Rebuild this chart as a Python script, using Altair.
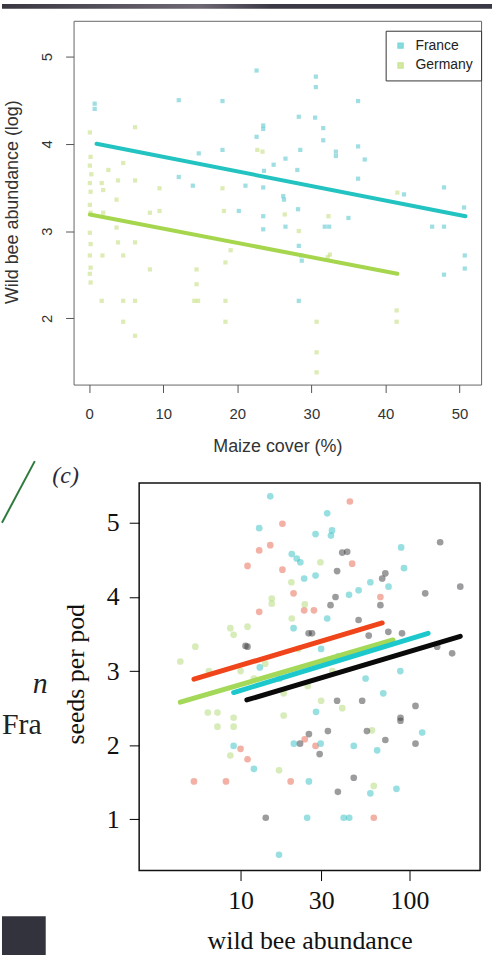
import altair as alt
import pandas as pd

# ---------------- top panel: wild bee abundance vs maize cover ----------------
countries = ["France", "Germany"]

fr_x = [0.75, 0.75, 12.1, 18.0, 22.6, 30.6, 30.6, 36.3, 28.3, 30.5, 23.5, 23.5, 31.6, 22.6,
        31.6, 36.3, 18.0, 14.8, 33.3, 33.3, 28.5, 26.5, 24.9, 37.2, 23.6, 28.1, 12.1, 14.0,
        21.1, 23.5, 36.3, 47.9, 26.2, 26.3, 28.2, 20.2, 23.5, 26.5, 23.5, 31.8, 32.4, 35.0,
        28.3, 28.7, 28.6, 46.3, 47.9, 50.6, 50.7, 50.7, 47.9, 28.3, 42.5]
fr_y = [4.46, 4.40, 4.50, 4.49, 4.84, 4.77, 4.65, 4.49, 4.31, 4.30, 4.21, 4.17, 4.18, 4.08,
        4.04, 3.97, 3.93, 3.89, 3.91, 3.86, 3.93, 3.83, 3.76, 3.82, 3.69, 3.70, 3.62, 3.52,
        3.52, 3.50, 3.60, 3.50, 3.40, 3.36, 3.25, 3.23, 3.17, 3.05, 3.02, 3.05, 3.05, 3.15,
        2.83, 2.66, 2.72, 3.05, 3.05, 3.27, 2.72, 2.57, 2.50, 2.20, 3.42]

de_x = [0.1, 0.2, 0.1, 0.3, 0.1, 0.2, 0.1, 0.2, 0.1, 0.2, 0.1, 0.2, 0.1, 0.2,
        6.2, 4.6, 2.6, 3.9, 6.2, 1.7, 1.9, 3.7, 9.5, 18.0, 23.4, 22.7,
        1.9, 3.7, 3.9, 6.2, 1.8, 4.6, 8.2, 9.5, 8.2, 14.5, 14.5, 1.7, 4.6, 6.2,
        14.2, 14.7, 18.4, 4.6, 6.2, 18.4, 18.2, 18.4, 19.1, 26.4, 32.3, 30.7,
        30.7, 30.7, 41.5, 41.5, 28.3, 32.5, 41.6, 32.2]
de_y = [4.13, 3.85, 3.75, 3.65, 3.55, 3.45, 3.30, 3.21, 2.98, 2.85, 2.72, 2.58, 2.51, 2.41,
        4.19, 3.78, 3.70, 3.58, 3.58, 3.55, 3.47, 3.36, 3.49, 3.49, 3.91, 3.93,
        3.21, 3.04, 2.87, 2.87, 2.72, 2.72, 3.21, 3.23, 2.56, 2.56, 2.39, 2.20, 2.20, 2.20,
        2.20, 2.20, 2.20, 1.96, 1.80, 1.96, 3.23, 2.64, 2.78, 3.19, 3.17, 1.96,
        1.61, 1.38, 2.09, 1.96, 3.00, 2.73, 3.44, 2.70]

fr_fit_x = [1.0, 50.8]
fr_fit_y = [4.00, 3.17]
de_fit_x = [0.1, 41.6]
de_fit_y = [3.19, 2.51]

top_x_ticks = [0, 10, 20, 30, 40, 50]
top_y_ticks = [2, 3, 4, 5]

# ---------------- bottom panel: seeds per pod vs wild bee abundance ----------------
groups = ["Group 1", "Group 2", "Group 3", "Group 4"]

red_x = [17.7, 15.0, 12.9, 11.0, 17.7, 20.6, 12.9, 23.8, 44.4, 45.8, 67.3, 27.2, 27.8,
         19.8, 61.5, 5.3, 8.2, 10.0, 11.0, 24.0]
red_y = [4.99, 4.70, 4.63, 4.42, 4.37, 4.05, 3.80, 3.82, 5.29, 4.45, 4.00, 3.82, 1.99,
         1.51, 1.02, 1.51, 1.51, 1.95, 1.81, 2.08]

grn_x = [15.3, 15.3, 20.1, 8.7, 9.1, 5.4, 4.4, 29.7, 61.5, 16.9, 6.4, 7.3, 7.3, 9.1, 9.1,
         8.7, 12.0, 14.0, 18.0, 22.0, 25.0, 30.0, 35.0, 20.0, 24.0, 40.0, 60.0, 18.0,
         10.0, 11.0, 6.5]
grn_y = [3.98, 3.91, 3.71, 3.58, 3.49, 3.33, 3.13, 4.47, 1.45, 1.66, 2.44, 2.44, 2.25, 2.37,
         2.25, 1.86, 2.90, 3.10, 2.70, 3.30, 2.80, 2.60, 3.00, 4.20, 3.90, 2.50, 2.20, 2.40,
         3.00, 3.60, 3.00]

cyn_x = [15.0, 12.9, 20.1, 21.5, 22.6, 23.8, 32.6, 27.8, 34.8, 34.3, 27.8, 89.3, 92.9,
         58.7, 75.2, 50.0, 43.9, 32.6, 88.3, 119.0, 64.4, 46.8, 20.7, 29.8, 58.7, 83.8,
         25.4, 24.8, 40.8, 44.0, 16.9, 9.1, 12.0, 20.6, 13.0, 17.0, 30.0, 38.0, 55.0, 70.0,
         28.0]
cyn_y = [5.36, 4.93, 4.58, 4.52, 4.47, 4.25, 5.13, 4.85, 4.90, 4.83, 4.29, 4.67, 4.39,
         4.20, 4.14, 4.09, 4.03, 3.71, 3.00, 2.17, 1.93, 1.99, 2.02, 2.02, 1.35, 1.41,
         1.51, 1.02, 1.02, 1.02, 0.52, 1.99, 1.68, 3.58, 3.05, 2.90, 3.30, 3.20, 2.90, 2.70,
         2.45]

blk_x = [11.0, 25.3, 40.0, 42.8, 37.3, 152.0, 200.0, 124.0, 72.0, 69.0, 36.5, 34.1, 67.3,
         57.4, 75.0, 90.4, 146.0, 179.0, 26.5, 37.3, 52.5, 108.6, 88.5, 88.5, 56.0, 72.0,
         108.6, 32.9, 25.4, 22.5, 29.4, 46.8, 37.7, 14.1, 10.7, 50.0]
blk_y = [3.33, 3.51, 4.60, 4.61, 4.35, 4.74, 4.14, 4.05, 4.32, 4.25, 4.00, 3.89, 3.89,
         3.48, 3.53, 3.51, 3.33, 3.24, 3.51, 2.60, 2.60, 2.53, 2.37, 2.33, 2.19, 2.07,
         2.02, 2.19, 2.15, 2.02, 1.88, 1.56, 1.37, 1.02, 3.34, 3.69]

fit_x = {"Group 1": [5.3, 69.0], "Group 2": [4.4, 80.0],
         "Group 3": [9.1, 129.0], "Group 4": [10.9, 200.0]}
fit_y = {"Group 1": [2.89, 3.65], "Group 2": [2.58, 3.42],
         "Group 3": [2.71, 3.51], "Group 4": [2.61, 3.47]}

bot_x_ticks = [10, 30, 100]
bot_y_ticks = [1, 2, 3, 4, 5]

# ---------------- tables ----------------
top_pts = pd.DataFrame({
    "cover": fr_x + de_x,
    "abund": fr_y + de_y,
    "country": ["France"] * len(fr_x) + ["Germany"] * len(de_x),
})
top_fit = pd.DataFrame({
    "cover": fr_fit_x + de_fit_x,
    "abund": fr_fit_y + de_fit_y,
    "country": ["France"] * 2 + ["Germany"] * 2,
})

bot_pts = pd.DataFrame({
    "bees": red_x + grn_x + cyn_x + blk_x,
    "seeds": red_y + grn_y + cyn_y + blk_y,
    "group": (["Group 1"] * len(red_x) + ["Group 2"] * len(grn_x)
              + ["Group 3"] * len(cyn_x) + ["Group 4"] * len(blk_x)),
})
fit_rows = []
for g in ["Group 2", "Group 3", "Group 1", "Group 4"]:
    for xv, yv in zip(fit_x[g], fit_y[g]):
        fit_rows.append({"bees": xv, "seeds": yv, "group": g})
bot_fit = pd.DataFrame(fit_rows)

one = pd.DataFrame({"k": [0]})

# ---------------- top chart ----------------
SANS = "Liberation Sans"
SERIF = "Liberation Serif"

tx = alt.X("cover:Q",
           scale=alt.Scale(domain=[-2.1, 52.9], nice=False, zero=False),
           axis=alt.Axis(values=top_x_ticks, format="d", domain=False, grid=False,
                         tickSize=8, tickColor="#555", labelFont=SANS, labelFontSize=15,
                         labelColor="#333", labelPadding=21, labelBaseline="middle",
                         title="Maize cover (%)", titleFont=SANS, titleFontSize=18,
                         titleFontWeight="normal", titleColor="#333",
                         titleY=62, titleBaseline="middle"))
ty = alt.Y("abund:Q",
           scale=alt.Scale(domain=[1.24, 5.41], nice=False, zero=False),
           axis=alt.Axis(values=top_y_ticks, format="d", domain=False, grid=False,
                         tickSize=8, tickColor="#555", labelFont=SANS, labelFontSize=15,
                         labelColor="#333", labelAngle=270, labelAlign="center",
                         labelBaseline="middle", labelPadding=19,
                         title="Wild bee abundance (log)", titleFont=SANS,
                         titleFontSize=18, titleFontWeight="normal", titleColor="#333",
                         titleX=-61, titleY=182, titleBaseline="middle"))

top_points = alt.Chart(top_pts).mark_square(size=18, opacity=0.5).encode(
    x=tx, y=ty,
    color=alt.Color("country:N",
                    scale=alt.Scale(domain=countries, range=["#3fbfc8", "#bcd96a"]),
                    legend=alt.Legend(title=None, orient="none", legendX=314, legendY=10,
                                      strokeColor="#333", fillColor="white", padding=8,
                                      labelFont=SANS, labelFontSize=14, labelColor="#222",
                                      symbolType="square", symbolSize=25,
                                      symbolOpacity=0.6, labelOffset=8, rowPadding=6)),
)
top_lines = alt.Chart(top_fit).mark_line(strokeWidth=4, strokeCap="round").encode(
    x="cover:Q", y="abund:Q",
    stroke=alt.Stroke("country:N",
                      scale=alt.Scale(domain=countries, range=["#22c3c0", "#a6d64e"]),
                      legend=None),
    detail="country:N",
)
top_strip = alt.Chart(one).mark_rect(
    fill={"gradient": "linear", "x1": 0, "x2": 1, "y1": 0, "y2": 0,
          "stops": [{"offset": 0, "color": "#3a3741"},
                    {"offset": 0.4, "color": "#6e6873"},
                    {"offset": 0.55, "color": "#3b3945"},
                    {"offset": 1, "color": "#3a3a46"}]}
).encode(x=alt.value(-72), x2=alt.value(421), y=alt.value(-17), y2=alt.value(-12))

top = alt.layer(top_points, top_lines, top_strip).properties(
    width=410, height=366,
    view=alt.ViewBackground(stroke="#666", strokeWidth=1),
)

# ---------------- bottom chart ----------------
bx = alt.X("bees:Q",
           scale=alt.Scale(type="log", domain=[2.51, 262], nice=False),
           axis=alt.Axis(values=bot_x_ticks, format="d", domain=False, grid=False,
                         tickSize=10, tickColor="#000", labelFont=SERIF, labelFontSize=26,
                         labelColor="#111", labelPadding=20, labelBaseline="middle",
                         title="wild bee abundance", titleFont=SERIF, titleFontSize=26,
                         titleFontWeight="normal", titleColor="#111",
                         titleY=70, titleBaseline="middle"))
by = alt.Y("seeds:Q",
           scale=alt.Scale(domain=[0.306, 5.54], nice=False, zero=False),
           axis=alt.Axis(values=bot_y_ticks, format="d", domain=False, grid=False,
                         tickSize=10, tickColor="#000", labelFont=SERIF, labelFontSize=26,
                         labelColor="#111", labelPadding=10, labelBaseline="middle",
                         title="seeds per pod", titleFont=SERIF, titleFontSize=26,
                         titleFontWeight="normal", titleColor="#111",
                         titleX=-64, titleY=192, titleBaseline="middle"))

bot_points = alt.Chart(bot_pts).mark_circle(size=45, opacity=0.5).encode(
    x=bx, y=by,
    color=alt.Color("group:N",
                    scale=alt.Scale(domain=groups,
                                    range=["#e8644c", "#b0da74", "#30c0c2", "#3a3a3e"]),
                    legend=None),
)
bot_lines = alt.Chart(bot_fit).mark_line(strokeWidth=5, strokeCap="round").encode(
    x="bees:Q", y="seeds:Q",
    stroke=alt.Stroke("group:N",
                      scale=alt.Scale(domain=groups,
                                      range=["#f0441a", "#a4d858", "#1cc8cc", "#0a0a0a"]),
                      legend=None),
    detail="group:N",
)
bottom = alt.layer(bot_points, bot_lines).properties(
    width=343, height=390,
    view=alt.ViewBackground(stroke="#111", strokeWidth=1.5),
)

# ---------------- left-hand fragments of the slide ----------------
lab_c = alt.Chart(one).mark_text(text="(c)", font=SERIF, fontSize=24, fontStyle="italic",
                                 color="#2a2a3a", align="center", baseline="middle"
                                 ).encode(x=alt.value(-8), y=alt.value(-7))
lab_fra = alt.Chart(one).mark_text(text="Fra", font=SERIF, fontSize=30, color="#222",
                                   align="left", baseline="alphabetic"
                                   ).encode(x=alt.value(-72), y=alt.value(253))
lab_n = alt.Chart(one).mark_text(text="n", font=SERIF, fontSize=30, fontStyle="italic",
                                 color="#222", align="left", baseline="alphabetic"
                                 ).encode(x=alt.value(-41), y=alt.value(211))
curve = alt.Chart(one).mark_rule(color="#2e7a3c", strokeWidth=2).encode(
    x=alt.value(-72), y=alt.value(40), x2=alt.value(-39), y2=alt.value(-22))
block = alt.Chart(one).mark_rect(color="#33333d").encode(
    x=alt.value(-72), x2=alt.value(-28), y=alt.value(436), y2=alt.value(475))

spacer = alt.layer(curve, block, lab_c, lab_fra, lab_n).properties(
    width=56, height=390,
    view=alt.ViewBackground(stroke="transparent"),
)

bottom_row = alt.hconcat(spacer, bottom, spacing=10, bounds="flush")

chart = alt.vconcat(top, bottom_row, spacing=99, bounds="flush").resolve_scale(
    color="independent", stroke="independent"
).resolve_legend(
    color="independent", stroke="independent"
).properties(padding=0, background="white")

chart.save("out.html", embed_options={"renderer": "svg", "actions": False})
